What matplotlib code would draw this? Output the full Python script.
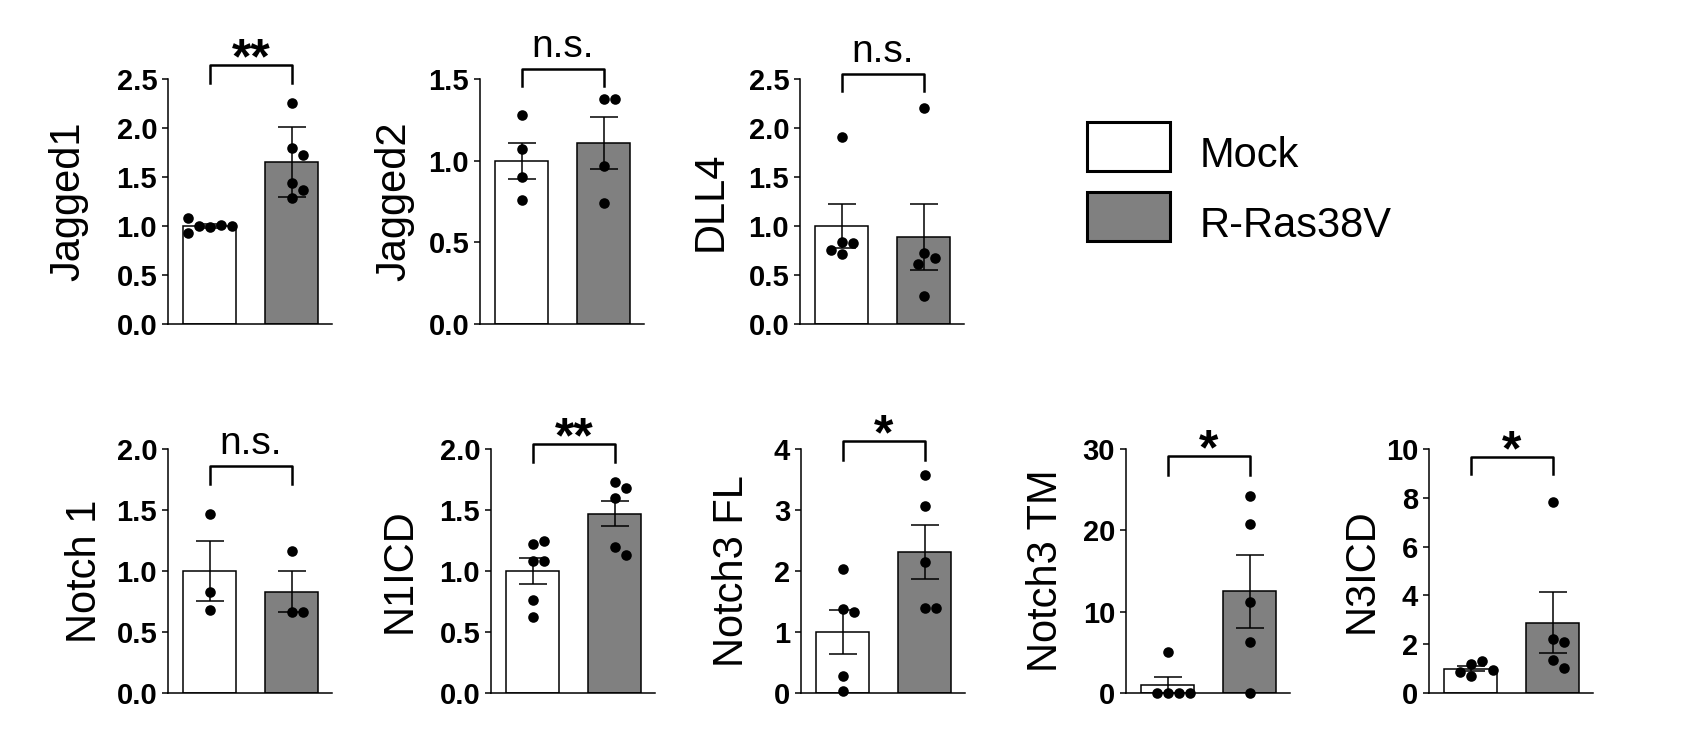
import numpy as np
import matplotlib
matplotlib.use("Agg")
import matplotlib.pyplot as plt
from matplotlib.patches import Rectangle

plt.rcParams["font.family"] = ["Liberation Sans", "DejaVu Sans"]

# values
genes = ["Jagged1", "Jagged2", "DLL4", "Notch 1", "N1ICD", "Notch3 FL", "Notch3 TM", "N3ICD"]
groups = ["Mock", "R-Ras38V"]

mock_mean = [1.00, 1.00, 1.00, 1.00, 1.00, 1.00, 1.00, 1.00]
mock_err = [0.02, 0.11, 0.225, 0.245, 0.105, 0.36, 1.0, 0.10]
rras_mean = [1.65, 1.11, 0.89, 0.83, 1.47, 2.31, 12.5, 2.88]
rras_err = [0.357, 0.16, 0.335, 0.167, 0.105, 0.44, 4.5, 1.26]

mock_points = [
    [0.99, 1.01, 1.00, 1.00, 1.08, 0.93],
    [1.28, 1.07, 0.90, 0.76],
    [1.91, 0.84, 0.71, 0.83, 0.76],
    [1.47, 0.83, 0.68],
    [1.22, 1.25, 1.08, 1.08, 0.76, 0.62],
    [2.03, 1.37, 1.32, 0.28, 0.04],
    [4.98, 0.0, 0.0, 0.0, 0.0],
    [1.20, 1.30, 0.70, 0.88, 0.95],
]
rras_points = [
    [2.25, 1.80, 1.72, 1.44, 1.37, 1.29],
    [1.38, 1.38, 0.97, 0.74],
    [2.20, 0.72, 0.67, 0.61, 0.29],
    [1.16, 0.66, 0.66],
    [1.73, 1.68, 1.60, 1.20, 1.13],
    [3.57, 3.06, 2.15, 1.39, 1.39],
    [24.2, 20.8, 11.2, 6.3, 0.0],
    [7.82, 2.22, 2.07, 1.35, 1.02],
]

y_max = [2.5, 1.5, 2.5, 2.0, 2.0, 4, 30, 10]
y_step = [0.5, 0.5, 0.5, 0.5, 0.5, 1, 10, 2]

sig_labels = ["**", "n.s.", "n.s.", "n.s.", "**", "*", "*", "*"]
bracket_top = [2.64, 1.56, 2.55, 1.86, 2.04, 4.13, 29.1, 9.66]
bracket_bottom = [2.46, 1.46, 2.38, 1.71, 1.89, 3.82, 26.8, 8.97]

# layout in pixels
FIG_W, FIG_H = 1688, 748
panel_left = [168, 480, 800, 168, 491, 801, 1126, 1429]
panel_top = [79, 79, 79, 449, 449, 449, 449, 449]
panel_h = [245, 245, 245, 244, 244, 244, 244, 244]
panel_w = 164
label_pad = [20.5, 10.5, 12.5, 8.5, 14, 16, 12, 3]
GREY = "#808080"


def swarm_offsets(ypix, d):
    placed = []
    offs = []
    cands = [0.0]
    for n in range(1, 20):
        cands += [n * d / 2, -n * d / 2]
    for y in ypix:
        for c in cands:
            if all((c - px) ** 2 + (y - py) ** 2 >= d * d for px, py in placed):
                break
        placed.append((c, y))
        offs.append(c)
    return np.array(offs)


fig = plt.figure(figsize=(FIG_W / 100, FIG_H / 100), dpi=100)

for i, gene in enumerate(genes):
    l, t, h = panel_left[i], panel_top[i], panel_h[i]
    ax = fig.add_axes([l / FIG_W, 1 - (t + h) / FIG_H, panel_w / FIG_W, h / FIG_H])

    means = [mock_mean[i], rras_mean[i]]
    errs = [mock_err[i], rras_err[i]]
    ax.bar([0, 1], means, width=0.65, color=["white", GREY],
           edgecolor="black", linewidth=1.1, zorder=1)
    ax.errorbar([0, 1], means, yerr=errs, fmt="none", ecolor="black",
                elinewidth=1.1, capsize=10, capthick=1.1, zorder=3)

    px_x = panel_w / 2.0
    px_y = h / y_max[i]
    for xc, pts in [(0, mock_points[i]), (1, rras_points[i])]:
        pts = np.array(pts)
        offs = swarm_offsets(pts * px_y, 11)
        ax.scatter(xc + offs / px_x, pts, s=58, color="black",
                   linewidths=0, zorder=4, clip_on=False)

    # significance bracket
    ax.plot([0, 0, 1, 1],
            [bracket_bottom[i], bracket_top[i], bracket_top[i], bracket_bottom[i]],
            color="black", lw=1.8, clip_on=False)
    if sig_labels[i] == "n.s.":
        ax.annotate("n.s.", xy=(0.5, bracket_top[i]), xytext=(0, 9),
                    textcoords="offset points", ha="center", va="baseline",
                    fontsize=28, annotation_clip=False)
    else:
        ax.annotate(sig_labels[i], xy=(0.5, bracket_top[i]), xytext=(0, -6),
                    textcoords="offset points", ha="center", va="baseline",
                    fontsize=36, fontweight="bold", annotation_clip=False)

    ax.set_xlim(-0.51, 1.49)
    ax.set_ylim(0, y_max[i])
    ax.set_xticks([])
    ticks = np.arange(0, y_max[i] + y_step[i] / 2, y_step[i])
    ax.set_yticks(ticks)
    if y_step[i] < 1:
        tick_text = [f"{v:.1f}" for v in ticks]
    else:
        tick_text = [f"{int(v)}" for v in ticks]
    ax.set_yticklabels(tick_text, fontweight="bold", fontsize=21)
    ax.tick_params(axis="y", direction="out", length=4.3, width=1.1, pad=3.5)
    for side in ["top", "right"]:
        ax.spines[side].set_visible(False)
    for side in ["left", "bottom"]:
        ax.spines[side].set_linewidth(1.1)
    ax.set_ylabel(gene, fontsize=30, labelpad=label_pad[i])

# legend boxes drawn in figure pixels
legend_box_top = [122, 192]
for k, (name, colour) in enumerate(zip(groups, ["white", GREY])):
    top = legend_box_top[k]
    fig.add_artist(Rectangle((1087 / FIG_W, 1 - (top + 49) / FIG_H),
                             83 / FIG_W, 49 / FIG_H, transform=fig.transFigure,
                             facecolor=colour, edgecolor="black", linewidth=2.2))
    fig.text(1200 / FIG_W, 1 - (top + 45) / FIG_H, name, fontsize=30,
             ha="left", va="baseline")

fig.savefig("out.png", dpi=100)
plt.close(fig)
